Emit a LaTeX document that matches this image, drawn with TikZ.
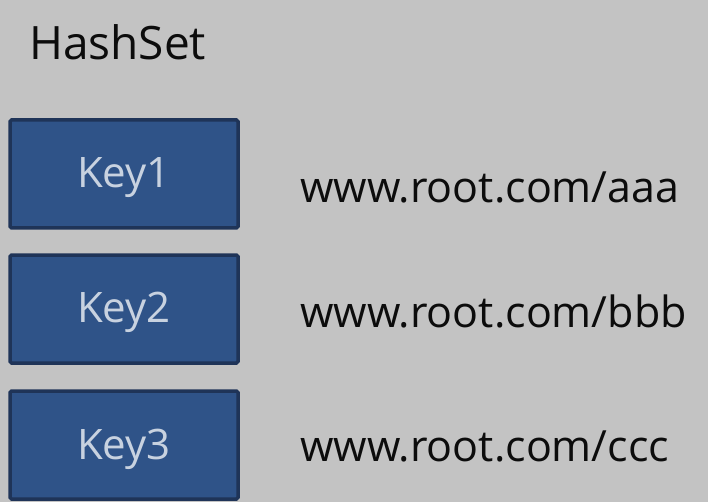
\documentclass[tikz,border=0pt]{standalone}
\usepackage{fontspec}
\setmainfont{Open Sans}
\definecolor{bg}{RGB}{195,195,195}
\definecolor{boxfill}{RGB}{47,83,136}
\definecolor{boxline}{RGB}{31,52,88}
\definecolor{keytext}{RGB}{200,210,224}
\definecolor{ink}{RGB}{12,12,12}
\tikzset{
  keybox/.style={draw=boxline, line width=3.5pt, rounded corners=1.5pt, fill=boxfill, minimum width=228pt, minimum height=108pt, inner sep=0pt, anchor=center},
  keylabel/.style={text=keytext, font=\fontsize{42}{48}\selectfont, anchor=base, inner sep=0pt},
  urltext/.style={text=ink, font=\fontsize{43}{48}\selectfont, anchor=base west, inner sep=0pt},
}
\begin{document}
\begin{tikzpicture}[x=1pt,y=-1pt]
\fill[bg] (0,0) rectangle (708,502);
\useasboundingbox (0,0) rectangle (708,502);
\node[text=ink, font=\fontsize{46}{52}\selectfont, anchor=base west, inner sep=0pt] (title) at (29,60) {HashSet};
\node[keybox] (k1) at (124,174) {};
\node[keybox] (k2) at (124,309) {};
\node[keybox] (k3) at (124,445) {};
\node[keylabel] (l1) at (k1.center) [yshift=-14pt] {Key1};
\node[keylabel] (l2) at (k2.center) [yshift=-13pt] {Key2};
\node[keylabel] (l3) at (k3.center) [yshift=-14pt] {Key3};
\node[urltext] (u1) at (300,203) {www.root.com/aaa};
\node[urltext] (u2) at (300,327) {www.root.com/bbb};
\node[urltext] (u3) at (300,461) {www.root.com/ccc};
\end{tikzpicture}
\end{document}
